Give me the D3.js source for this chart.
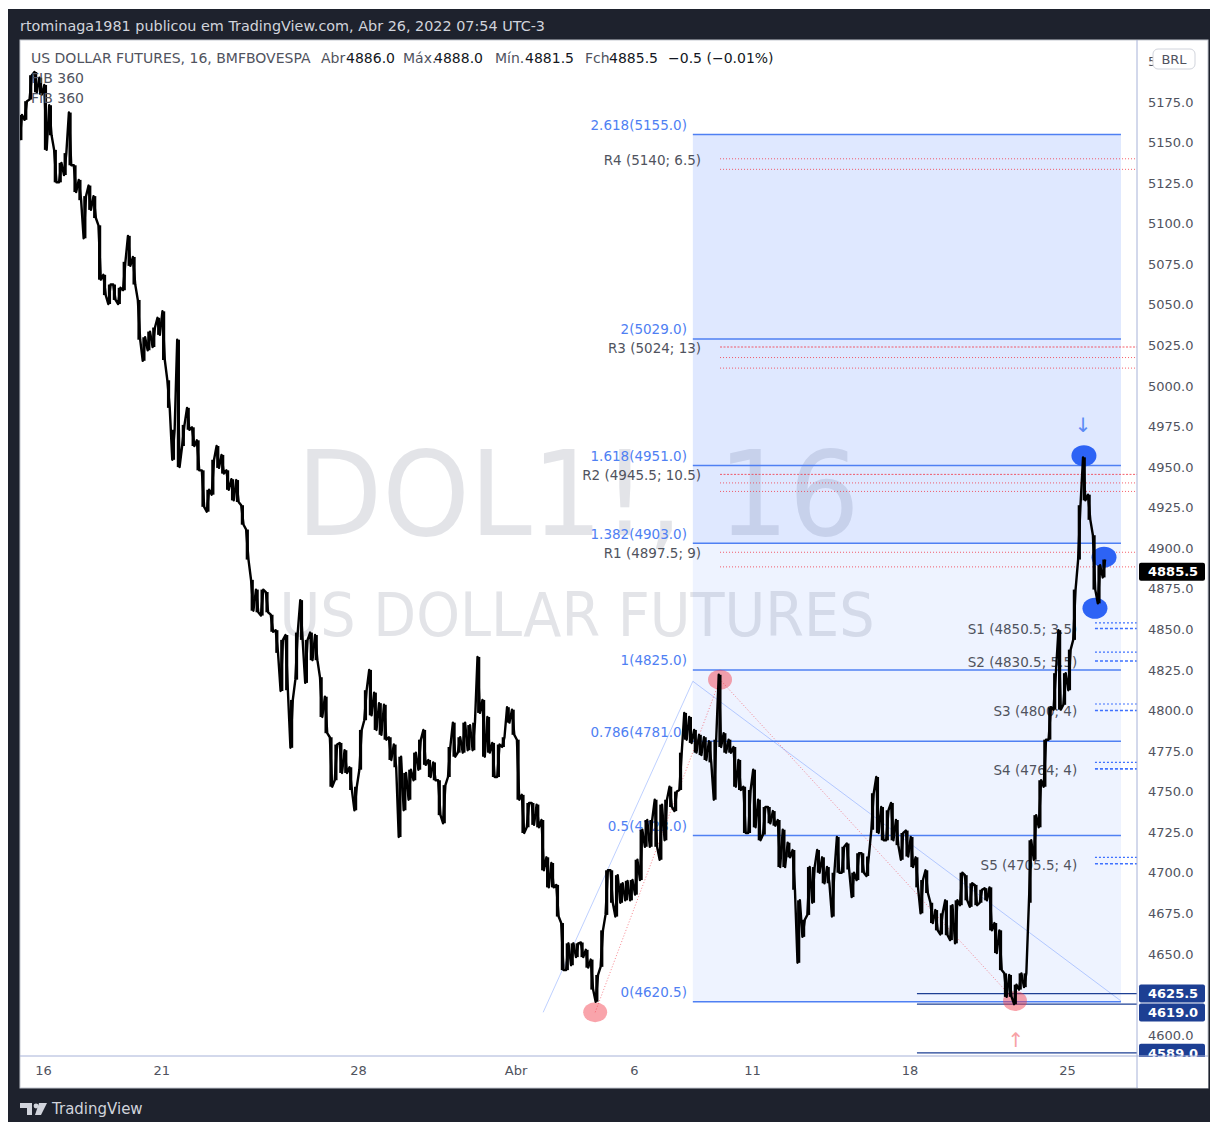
<!DOCTYPE html>
<html>
<head>
<meta charset="utf-8">
<script src="https://cdn.jsdelivr.net/npm/d3@7"></script>
<style>
  body { margin: 0; background: #fff; }
  svg text { font-family: "DejaVu Sans", Verdana, sans-serif; }
</style>
</head>
<body>
<div id="chart"></div>
<script>
const W = 1210, H = 1122;
const plot = { l: 20, r: 1137, t: 40, b: 1056 };

// time axis (trading-day index, Mar 16 = 0)
const dayTicks = [0, 3, 8, 12, 15, 18, 22, 26];
const dayTickLabels = ["16", "21", "28", "Abr", "6", "11", "18", "25"];

const priceTicks = [4600, 4625, 4650, 4675, 4700, 4725, 4750, 4775, 4800, 4825, 4850, 4875, 4900,
  4925, 4950, 4975, 5000, 5025, 5050, 5075, 5100, 5125, 5150, 5175, 5200];

// 16-min bars grouped in chunks of 1/8 day
const barStart = -0.5625, barStep = 0.125;
const barHigh = [5167, 5175.5, 5191.5, 5193.5, 5190, 5185.5, 5173, 5145.5, 5137.5, 5143.5,
  5168.5, 5136, 5127, 5117, 5123.5, 5117, 5099, 5068.5, 5062.5, 5062.5,
  5060.5, 5076.5, 5092.5, 5079.5, 5053, 5030, 5033.5, 5036, 5042, 5046,
  5003.5, 4973, 5028.5, 4976, 4986.5, 4974.5, 4966.5, 4948, 4936, 4954.5,
  4963, 4957.5, 4948, 4942.5, 4942, 4926.5, 4911.5, 4880.5, 4874.5, 4874.5,
  4873, 4859, 4849.5, 4843.5, 4846.5, 4806.5, 4848, 4868, 4843.5, 4848,
  4846.5, 4820.5, 4808.5, 4783.5, 4779, 4780, 4775.5, 4765, 4753, 4788,
  4812.5, 4825, 4811, 4804.5, 4803.5, 4783.5, 4779, 4771.5, 4761.5, 4763.5,
  4774, 4782, 4788, 4769.5, 4768, 4757, 4754, 4777.5, 4792.5, 4783.5,
  4792.5, 4791, 4792.5, 4833, 4806.5, 4796, 4780, 4779, 4783.5, 4802,
  4800.5, 4782, 4748, 4743, 4743, 4742, 4732.5, 4709.5, 4706, 4692.5,
  4669, 4656.5, 4656.5, 4656.5, 4657, 4652.5, 4646.5, 4637, 4664.5, 4701.5,
  4701.5, 4698.5, 4693.5, 4695, 4695.5, 4708, 4726.5, 4732.5, 4732.5, 4745,
  4742, 4745, 4753, 4750, 4774, 4798.5, 4796, 4788, 4785, 4783.5,
  4781, 4782, 4822, 4786, 4782, 4777.5, 4769.5, 4753, 4751, 4763.5,
  4745, 4740.5, 4740.5, 4738, 4732.5, 4726.5, 4718.5, 4714, 4683, 4671,
  4703.5, 4703.5, 4714, 4709.5, 4703.5, 4700, 4722, 4716, 4718, 4700,
  4712, 4712, 4710, 4749, 4759, 4740.5, 4738.5, 4743, 4732.5, 4724.5,
  4726, 4722, 4709.5, 4695.5, 4701.5, 4681.5, 4677, 4675, 4683, 4680,
  4683, 4700, 4698.5, 4693.5, 4692.5, 4689.5, 4690.5, 4691, 4669, 4664.5,
  4638, 4637, 4631, 4638, 4638, 4720, 4735.5, 4757, 4782, 4802,
  4823, 4849.5, 4823, 4837.5, 4874.5, 4926.5, 4956, 4933, 4908, 4889.5,
  4893];
const barLow = [5151.5, 5164, 5176.5, 5181, 5179.5, 5145.5, 5154.5, 5125.5, 5125.5, 5130,
  5136, 5119.5, 5114.5, 5091, 5108.5, 5103.5, 5065.5, 5056, 5050.5, 5053,
  5050.5, 5059, 5074, 5062.5, 5028.5, 5015.5, 5022, 5024, 5031.5, 5016,
  4986.5, 4954.5, 4950, 4963, 4973, 4963, 4948, 4925.5, 4922.5, 4933,
  4949.5, 4946, 4936, 4929.5, 4928.5, 4914.5, 4893, 4861.5, 4860.5, 4858.5,
  4860.5, 4848.5, 4835.5, 4812, 4812.5, 4777, 4819, 4843.5, 4817, 4831,
  4831, 4796, 4786, 4753, 4757, 4761.5, 4761.5, 4751, 4738.5, 4763.5,
  4794, 4797, 4788, 4785, 4782, 4769.5, 4765, 4722, 4738.5, 4745,
  4757, 4763.5, 4766.5, 4759, 4757, 4735.5, 4730.5, 4759, 4771.5, 4774,
  4774, 4775.5, 4775.5, 4798.5, 4771.5, 4774, 4759, 4759, 4777.5, 4792.5,
  4785, 4745, 4724.5, 4728, 4729.5, 4728, 4701.5, 4691, 4691, 4673,
  4640, 4640, 4643, 4648, 4648, 4641.5, 4628, 4620.5, 4642, 4674,
  4681.5, 4673, 4681.5, 4683, 4683, 4686.5, 4695.5, 4716, 4716, 4716,
  4708, 4720, 4740.5, 4738, 4751, 4782, 4780, 4774, 4772.5, 4769.5,
  4768, 4745, 4777.5, 4774, 4774, 4753, 4751, 4724.5, 4724.5, 4728,
  4720, 4723.5, 4730.5, 4729, 4703.5, 4703.5, 4709.5, 4689.5, 4644.5, 4660.5,
  4674, 4681.5, 4700, 4693.5, 4693.5, 4673, 4700, 4700, 4702, 4685,
  4695.5, 4700, 4698, 4726.5, 4724.5, 4720, 4720, 4720, 4717, 4708,
  4710, 4703.5, 4691, 4675, 4687.5, 4669, 4664.5, 4662, 4661.5, 4658.5,
  4656.5, 4680, 4683, 4679, 4680, 4681.5, 4683, 4664.5, 4650.5, 4640,
  4623.5, 4623.5, 4619, 4628, 4629.5, 4681.5, 4708, 4728, 4753, 4782,
  4800.5, 4800.5, 4803.5, 4812.5, 4843.5, 4893, 4929.5, 4917.5, 4874.5, 4866,
  4882];

// trend-based fib extension
const fibLevels = ["0", "0.5", "0.786", "1", "1.382", "1.618", "2", "2.618"];
const fibPrices = [4620.5, 4723.0, 4781.0, 4825.0, 4903.0, 4951.0, 5029.0, 5155.0];
const fibFrom = 16.5, fibTo = 27.37;
const fibAnchorT = [12.7, 16.5, 27.37];
const fibAnchorP = [4614, 4818, 4621];

// pivot levels (level; width)
const pivotNames = ["R4", "R3", "R2", "R1", "S1", "S2", "S3", "S4", "S5"];
const pivotLevels = [5140, 5024, 4945.5, 4897.5, 4850.5, 4830.5, 4800, 4764, 4705.5];
const pivotWidths = [6.5, 13, 10.5, 9, 3.5, 5.5, 4, 4, 4];

// marked swing points
const redDotT = [14.02, 17.19, 24.68];
const redDotP = [4614, 4819, 4621];
const blueDotT = [26.43, 26.94, 26.71];
const blueDotP = [4957, 4894.5, 4863];

// horizontal lines with price labels
const hLinePrices = [4625.5, 4619.0, 4589.0];
const hLineFrom = 22.19;
const lastPrice = 4885.5;

const legendTokens = ["US DOLLAR FUTURES, 16, BMFBOVESPA", "Abr", "4886.0", "Máx.", "4888.0", "Mín.", "4881.5", "Fch", "4885.5", "−0.5 (−0.01%)"];
const legendDark = [false, false, true, false, true, false, true, false, true, true];
const legendX = [31, 321, 346, 403, 434, 495, 525, 585, 609, 668];

const x = d3.scaleLinear().domain([0, 26]).range([43, 1067]);
const y = d3.scaleLinear().domain([4600, 5175]).range([1035, 102]);

const grey = "#50535e", blue = "#4f80f3", red = "#f23645";

const svg = d3.select("#chart").append("svg")
  .attr("width", W).attr("height", H).attr("viewBox", `0 0 ${W} ${H}`);

svg.append("rect").attr("x", 0).attr("y", 0).attr("width", W).attr("height", H).attr("fill", "#fff");
svg.append("rect").attr("x", 8).attr("y", 9).attr("width", W - 8).attr("height", H - 9).attr("fill", "#1e222d");
svg.append("rect").attr("x", plot.l).attr("y", plot.t).attr("width", 1208 - plot.l).attr("height", 1088 - plot.t)
  .attr("fill", "#fff").attr("stroke", "#c3c7d0");

svg.append("text").attr("x", 20).attr("y", 31).attr("fill", "#d1d4dc").attr("font-size", 14)
  .attr("textLength", 525).attr("lengthAdjust", "spacingAndGlyphs")
  .text("rtominaga1981 publicou em TradingView.com, Abr 26, 2022 07:54 UTC-3");

svg.append("defs").append("clipPath").attr("id", "pclip").append("rect")
  .attr("x", plot.l).attr("y", plot.t).attr("width", plot.r - plot.l).attr("height", plot.b - plot.t);
const g = svg.append("g").attr("clip-path", "url(#pclip)");

// watermark
g.append("text").attr("x", 578).attr("y", 535).attr("text-anchor", "middle")
  .attr("font-size", 118).attr("fill", "#e3e4e8")
  .attr("textLength", 563).attr("lengthAdjust", "spacingAndGlyphs").text("DOL1!, 16");
g.append("text").attr("x", 577).attr("y", 636).attr("text-anchor", "middle")
  .attr("font-size", 60).attr("fill", "#e3e4e8")
  .attr("textLength", 595).attr("lengthAdjust", "spacingAndGlyphs").text("US DOLLAR FUTURES");

// fib fills
g.append("rect").attr("x", x(fibFrom)).attr("width", x(fibTo) - x(fibFrom))
  .attr("y", y(fibPrices[7])).attr("height", y(fibPrices[4]) - y(fibPrices[7]))
  .attr("fill", "rgba(41,98,255,0.15)");
g.append("rect").attr("x", x(fibFrom)).attr("width", x(fibTo) - x(fibFrom))
  .attr("y", y(fibPrices[4])).attr("height", y(fibPrices[0]) - y(fibPrices[4]))
  .attr("fill", "rgba(41,98,255,0.08)");

// anchors of the extension and the dotted swing path
const tl = d3.line().x(d => x(d[0])).y(d => y(d[1]));
g.append("path").attr("d", tl(fibAnchorT.map((t, i) => [t, fibAnchorP[i]])))
  .attr("fill", "none").attr("stroke", "rgba(41,98,255,0.3)").attr("stroke-width", 1);
g.append("path").attr("d", tl(redDotT.map((t, i) => [t, redDotP[i]])))
  .attr("fill", "none").attr("stroke", "rgba(242,54,69,0.6)").attr("stroke-width", 1).attr("stroke-dasharray", "1,2");

g.selectAll("line.fib").data(fibPrices).join("line").attr("class", "fib")
  .attr("x1", x(fibFrom)).attr("x2", x(fibTo))
  .attr("y1", d => y(d)).attr("y2", d => y(d))
  .attr("stroke", blue).attr("stroke-width", 1.5);

g.selectAll("text.fib").data(fibPrices).join("text").attr("class", "fib")
  .attr("x", x(16.35)).attr("y", d => y(d) - 4.5).attr("text-anchor", "end")
  .attr("font-size", 13.5).attr("fill", blue)
  .text((d, i) => `${fibLevels[i]}(${d.toFixed(1)})`);

// pivots
pivotNames.forEach((name, i) => {
  const lvl = pivotLevels[i], w = pivotWidths[i], isR = name[0] === "R";
  const lines = isR ? [lvl, lvl - w] : [lvl, lvl + w];
  if (isR && w >= 10) lines.splice(1, 0, lvl - w / 2);
  const x1 = isR ? x(17.19) : x(26.71);
  lines.forEach((p, j) => {
    g.append("line").attr("x1", x1).attr("x2", plot.r).attr("y1", y(p)).attr("y2", y(p))
      .attr("stroke", isR ? red : "#2962ff")
      .attr("stroke-width", isR ? 1 : (j === 0 ? 1.6 : 1.2))
      .attr("stroke-opacity", isR ? 0.8 : 0.9)
      .attr("stroke-dasharray", isR ? (j === 0 && w >= 10 ? "2,1.5" : "1,2") : (j === 0 ? "3,2" : "2,2"));
  });
  g.append("text").attr("x", isR ? x(16.71) : x(26.26)).attr("y", y(lvl) + 1).attr("dy", "0.36em")
    .attr("text-anchor", "end").attr("font-size", 13.5).attr("fill", grey)
    .text(`${name} (${lvl}; ${w})`);
});

// horizontal price lines
g.selectAll("line.hl").data(hLinePrices).join("line").attr("class", "hl")
  .attr("x1", x(hLineFrom)).attr("x2", plot.r)
  .attr("y1", d => y(d)).attr("y2", d => y(d))
  .attr("stroke", "#1d3f93").attr("stroke-width", 1.2);

// marked points (under price)
g.selectAll("ellipse.red").data(redDotT).join("ellipse").attr("class", "red")
  .attr("cx", d => x(d)).attr("cy", (d, i) => y(redDotP[i])).attr("rx", 12).attr("ry", 10)
  .attr("fill", "rgba(242,54,69,0.45)");
g.selectAll("ellipse.blue").data(blueDotT).join("ellipse").attr("class", "blue")
  .attr("cx", d => x(d)).attr("cy", (d, i) => y(blueDotP[i])).attr("rx", 12.5).attr("ry", 10.5)
  .attr("fill", "#2d63f5");

// price bars
const bars = barHigh.map((hi, k) => ({ t: barStart + k * barStep, hi: hi, lo: barLow[k] }));
const pts = [];
bars.forEach((b, k) => {
  const next = bars[k + 1];
  const down = next ? (next.hi + next.lo) < (b.hi + b.lo) : false;
  pts.push([b.t - 0.03, down ? b.hi : b.lo]);
  pts.push([b.t + 0.03, down ? b.lo : b.hi]);
});
g.append("path").attr("d", tl(pts)).attr("fill", "none").attr("stroke", "#000")
  .attr("stroke-width", 2.4).attr("stroke-linejoin", "round");
g.selectAll("rect.bar").data(bars).join("rect").attr("class", "bar")
  .attr("x", d => x(d.t) - 1.6).attr("width", 3.2)
  .attr("y", d => y(d.hi)).attr("height", d => Math.max(1, y(d.lo) - y(d.hi)))
  .attr("fill", "#000");

// arrows
g.append("text").attr("x", x(26.41)).attr("y", y(4976)).attr("dy", "0.35em").attr("text-anchor", "middle")
  .attr("font-size", 20).attr("fill", "#5b8af5").text("↓");
g.append("text").attr("x", x(24.7)).attr("y", y(4597)).attr("dy", "0.35em").attr("text-anchor", "middle")
  .attr("font-size", 20).attr("fill", "#f7a1a6").text("↑");

// legend
const leg = svg.append("text").attr("y", 63).attr("font-size", 14);
legendTokens.forEach((s, i) => {
  leg.append("tspan").attr("x", legendX[i]).attr("fill", legendDark[i] ? "#131722" : grey).text(s);
});
svg.append("text").attr("x", 31).attr("y", 83).attr("font-size", 14).attr("fill", grey).text("FIB 360");
svg.append("text").attr("x", 31).attr("y", 103).attr("font-size", 14).attr("fill", grey).text("FIB 360");

// axes
svg.append("line").attr("x1", plot.r).attr("x2", plot.r).attr("y1", plot.t).attr("y2", 1088).attr("stroke", "#a7b2d8");
svg.append("line").attr("x1", plot.l).attr("x2", plot.r).attr("y1", plot.b).attr("y2", plot.b).attr("stroke", "#a7b2d8");

const ya = svg.append("g").attr("transform", `translate(${plot.r},0)`)
  .call(d3.axisRight(y).tickValues(priceTicks).tickFormat(d3.format(".1f")).tickSize(0).tickPadding(11));
ya.select(".domain").remove();
ya.selectAll("text").attr("font-size", 13).attr("fill", grey).attr("font-family", "DejaVu Sans");

const xa = svg.append("g").attr("transform", `translate(0,${plot.b})`)
  .call(d3.axisBottom(x).tickValues(dayTicks).tickFormat((d, i) => dayTickLabels[i]).tickSize(0).tickPadding(10));
xa.select(".domain").remove();
xa.selectAll("text").attr("font-size", 13).attr("fill", grey).attr("font-family", "DejaVu Sans");

// axis badges
const badgeG = svg.append("g");
function badge(p, yy, fill) {
  badgeG.append("rect").attr("x", plot.r + 2).attr("y", yy - 9).attr("width", 66).attr("height", 18)
    .attr("rx", 2).attr("fill", fill);
  badgeG.append("text").attr("x", plot.r + 11).attr("y", yy).attr("dy", "0.36em")
    .attr("font-size", 13).attr("font-weight", "bold").attr("fill", "#fff").text(p.toFixed(1));
}
let prevY = -100;
hLinePrices.forEach(p => {
  const yy = Math.max(y(p), prevY + 19);
  badge(p, yy, "#1d3f93");
  prevY = yy;
});
badge(lastPrice, y(lastPrice), "#000");

// clip the badges at the time axis
svg.append("rect").attr("x", plot.r + 1).attr("y", plot.b + 1).attr("width", 1207 - plot.r).attr("height", 31).attr("fill", "#fff");
svg.append("line").attr("x1", plot.r).attr("x2", 1208).attr("y1", plot.b).attr("y2", plot.b).attr("stroke", "#a7b2d8");

// currency badge
svg.append("rect").attr("x", 1153).attr("y", 49).attr("width", 42).attr("height", 20).attr("rx", 5)
  .attr("fill", "#fff").attr("stroke", "#d1d4dc");
svg.append("text").attr("x", 1174).attr("y", 59).attr("dy", "0.36em").attr("text-anchor", "middle")
  .attr("font-size", 13).attr("fill", grey).text("BRL");

// footer logo
const logo = svg.append("g").attr("fill", "#d1d4dc");
logo.append("path").attr("d", "M20,1103 h12 v12 h-5 v-7 h-7 z");
logo.append("circle").attr("cx", 36).attr("cy", 1106).attr("r", 2.4);
logo.append("path").attr("d", "M39,1103 h8 l-6,12 h-6 z");
svg.append("text").attr("x", 52).attr("y", 1114).attr("font-size", 15).attr("fill", "#d1d4dc").text("TradingView");
</script>
</body>
</html>
